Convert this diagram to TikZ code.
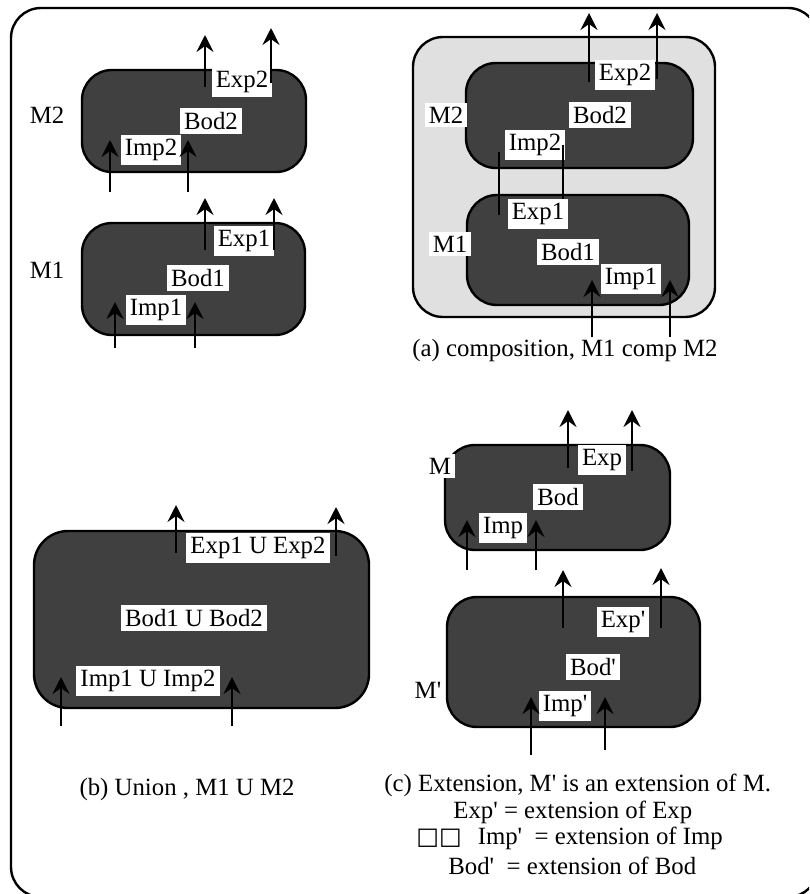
\documentclass[tikz,border=0pt]{standalone}
\usepackage{fontspec}
\setmainfont{Liberation Serif}
\newfontfamily\boxfont{DejaVu Sans}
\usetikzlibrary{arrows.meta,positioning}
\definecolor{bodgray}{HTML}{404040}
\definecolor{compgray}{HTML}{E0E0E0}
\newcommand{\pq}{\textquotesingle}
\tikzset{
  module/.style  = {draw, line width=1.2pt, fill=bodgray, rounded corners=15pt},
  port/.style    = {fill=white, inner sep=2pt, font=\fontsize{12.4}{14}\selectfont},
  flow/.style    = {line width=1.3pt, -{Stealth[length=8.5pt,width=8.5pt,inset=3pt]}},
  link/.style    = {line width=1.2pt},
  caption/.style = {inner sep=0pt, font=\fontsize{12.4}{14}\selectfont}
}
\begin{document}
\begin{tikzpicture}[x=0.5pt, y=-0.5pt]
  \useasboundingbox (0,0) rectangle (809,894);
  \clip (0,0) rectangle (809,894);
  % Frame
  \draw [line width=1.2pt, rounded corners=15pt] (11,8) rectangle (818,897);

  % Two modules, M2 over M1
  \draw [module] (82,70) rectangle (306,172);
  \draw [module] (82,223) rectangle (305,335);
  \node [port] (mtwo)   at (47,115)  {M2};
  \node [port] (exptwo) at (242,82)  {Exp2};
  \node [port] (bodtwo) at (211,121) {Bod2};
  \node [port] (imptwo) at (151,150) {Imp2};
  \node [port] (mone)   at (47,270)  {M1};
  \node [port] (expone) at (244,241) {Exp1};
  \node [port] (bodone) at (198,278) {Bod1};
  \node [port] (impone) at (156,310) {Imp1};
  \draw [flow] (205,87)  -- (205,35);
  \draw [flow] (271,83)  -- (271,28);
  \draw [flow] (110,192) -- (110,140);
  \draw [flow] (188,192) -- (188,140);
  \draw [flow] (205,250) -- (205,198);
  \draw [flow] (274,250) -- (274,198);
  \draw [flow] (115,348) -- (115,302);
  \draw [flow] (195,348) -- (195,302);

  % Composition
  \draw [line width=1.2pt, fill=compgray, rounded corners=15pt] (413,37) rectangle (715,317);
  \draw [module] (466,63) rectangle (693,168);
  \draw [module] (467,195) rectangle (689,305);
  \node [port] (cmtwo)   at (446,115) {M2};
  \node [port] (cexptwo) at (625,75)  {Exp2};
  \node [port] (cbodtwo) at (600,115) {Bod2};
  \node [port] (cimptwo) at (535,145) {Imp2};
  \node [port] (cmone)   at (450,244) {M1};
  \node [port] (cexpone) at (538,214) {Exp1};
  \node [port] (cbodone) at (568,252) {Bod1};
  \node [port] (cimpone) at (631,279) {Imp1};
  \draw [link] (499,152) -- (499,215);
  \draw [link] (563,145) -- (563,199);
  \draw [flow] (589,82)  -- (589,13);
  \draw [flow] (657,79)  -- (657,13);
  \draw [flow] (592,337) -- (592,280);
  \draw [flow] (670,337) -- (670,280);
  \node [caption] (capa) at (565,351) {(a) composition, M1 comp M2};

  % Union
  \draw [module, rounded corners=17pt] (34,531) rectangle (369,708);
  \node [port] (uexp) at (258,548) {Exp1 U Exp2};
  \node [port] (ubod) at (194,618) {Bod1 U Bod2};
  \node [port] (uimp) at (148,681) {Imp1 U Imp2};
  \draw [flow] (176,553) -- (176,505);
  \draw [flow] (336,556) -- (336,507);
  \draw [flow] (61,726)  -- (61,677);
  \draw [flow] (232,726) -- (232,677);
  \node [caption] (capb) at (187,790) {(b) Union , M1 U M2};

  % Extension
  \draw [module] (445,445) rectangle (670,550);
  \draw [module] (447,597) rectangle (700,727);
  \node [port] (mbase) at (440,466) {M};
  \node [port] (exp)   at (602,460) {Exp};
  \node [port] (bod)   at (558,497) {Bod};
  \node [port] (imp)   at (503,528) {Imp};
  \node [port] (mext)  at (428,690) {M\pq};
  \node [port] (expx)  at (623,622) {Exp\pq};
  \node [port] (bodx)  at (593,667) {Bod\pq};
  \node [port] (impx)  at (565,706) {Imp\pq};
  \draw [flow] (568,468) -- (568,410);
  \draw [flow] (632,471) -- (632,410);
  \draw [flow] (467,570) -- (467,520);
  \draw [flow] (536,570) -- (536,520);
  \draw [flow] (563,628) -- (563,570);
  \draw [flow] (661,628) -- (661,568);
  \draw [flow] (531,755) -- (531,697);
  \draw [flow] (605,750) -- (605,697);
  \node [caption, anchor=west] (capc)  at (384,785) {(c) Extension, M\pq{} is an extension of M.};
  \node [caption, anchor=west] (noteexp) at (453,812) {Exp\pq{} = extension of Exp};
  \node [caption, anchor=west] (noteimp) at (416,838) {{\boxfont\fontsize{12}{12}\selectfont □□}\hspace{8pt}Imp\pq\ \ = extension of Imp};
  \node [caption, anchor=west] (notebod) at (448,866) {Bod\pq\ \ = extension of Bod};
\end{tikzpicture}
\end{document}
